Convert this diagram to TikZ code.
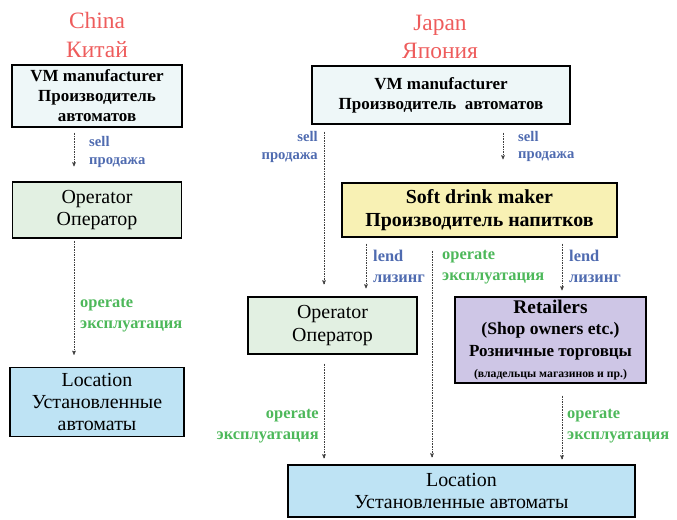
\documentclass[tikz,border=0pt]{standalone}
\usepackage{fontspec}
\setmainfont{Liberation Serif}
\usepackage{tikz}
\usetikzlibrary{arrows}
\definecolor{vmfill}{HTML}{EEF7F8}
\definecolor{opfill}{HTML}{E2F0E2}
\definecolor{locfill}{HTML}{BEE3F4}
\definecolor{sdfill}{HTML}{F8F1B4}
\definecolor{retfill}{HTML}{CEC6E6}
\definecolor{lblue}{HTML}{4F6BB0}
\definecolor{lgreen}{HTML}{4DB85A}
\definecolor{tred}{HTML}{EE5C5C}

\begin{document}
\begin{tikzpicture}[x=0.03cm,y=-0.03cm,->,>=stealth',thin]
  \tikzstyle{box}=[draw=black,line width=1.1pt,align=center,inner sep=2pt]
  \tikzstyle{title}=[font=\fontsize{20}{24}\selectfont,text=tred,align=center]
  \tikzstyle{flow}=[densely dotted,draw=black!75]
  \tikzstyle{selltxt}=[font=\fontsize{12.5}{15}\selectfont\bfseries,text=lblue,inner sep=0pt]
  \tikzstyle{lendtxt}=[font=\fontsize{14}{18}\selectfont\bfseries,text=lblue,inner sep=0pt]
  \tikzstyle{optxt}=[font=\fontsize{14}{18}\selectfont\bfseries,text=lgreen,inner sep=0pt]
  \tikzstyle{bold}=[font=\fontsize{14.5}{17}\selectfont\bfseries]
  \tikzstyle{plain}=[font=\fontsize{17}{19}\selectfont]

  \useasboundingbox (0,0) rectangle (677,519);

  % China
  \node[title] (cn) at (97,35) {China\\Китай};
  \node[box,bold,fill=vmfill,minimum width=5.1cm,minimum height=1.86cm] (cvm) at (97,96)
    {VM manufacturer\\Производитель\\автоматов};
  \node[box,plain,fill=opfill,minimum width=5.07cm,minimum height=1.68cm] (cop) at (97,210)
    {Operator\\Оператор};
  \node[box,plain,fill=locfill,minimum width=5.22cm,minimum height=2.07cm] (cloc) at (97,402)
    {Location\\Установленные\\автоматы};

  % Japan
  \node[title] (jp) at (440,37) {Japan\\Япония};
  \node[box,bold,fill=vmfill,minimum width=7.74cm,minimum height=1.74cm] (jvm) at (441,95)
    {VM manufacturer\\Производитель\ \ автоматов};
  \node[box,font=\fontsize{17}{20}\selectfont\bfseries,fill=sdfill,minimum width=8.25cm,minimum height=1.62cm] (jsd) at (479.5,210)
    {Soft drink maker\\Производитель напитков};
  \node[box,plain,fill=opfill,minimum width=5.07cm,minimum height=1.71cm] (jop) at (332.5,325.5)
    {Operator\\Оператор};
  \node[box,font=\fontsize{15}{18}\selectfont\bfseries,fill=retfill,minimum width=5.73cm,minimum height=2.58cm] (jret) at (550.5,340)
    {{\fontsize{16.5}{19}\selectfont Retailers}\\(Shop owners etc.)\\{\fontsize{14.5}{18}\selectfont Розничные торговцы}\\{\fontsize{10}{12}\selectfont (владельцы магазинов и пр.)}};
  \node[box,plain,fill=locfill,minimum width=10.41cm,minimum height=1.56cm] (jloc) at (461.5,491)
    {Location\\Установленные автоматы};

  % arrow columns
  \coordinate (cA) at (74,0);
  \coordinate (jA) at (324,0);
  \coordinate (jB) at (366,0);
  \coordinate (jC) at (432,0);
  \coordinate (jD) at (503,0);
  \coordinate (jE) at (562,0);

  \path (cvm.south -| cA) edge[flow,shorten <=0.15cm,shorten >=0.45cm]
          node[selltxt,right,align=left,pos=0.45,xshift=0.45cm] {sell\\продажа} (cop.north -| cA)
        (cop.south -| cA) edge[flow,shorten <=0.06cm,shorten >=0.36cm]
          node[optxt,right,align=left,pos=0.6,xshift=0.18cm] {operate\\эксплуатация} (cloc.north -| cA);

  \path (jvm.south -| jA) edge[flow,shorten <=0.21cm,shorten >=0.36cm]
          node[selltxt,left,align=right,pos=0.13,xshift=-0.18cm] {sell\\продажа} (jop.north -| jA)
        (jvm.south -| jD) edge[flow,shorten <=0.24cm,shorten >=0.69cm]
          node[selltxt,right,align=left,pos=0.38,xshift=0.45cm] {sell\\продажа} (jsd.north -| jD)
        (jsd.south -| jB) edge[flow,shorten <=0.18cm,shorten >=0.24cm]
          node[lendtxt,right,align=left,pos=0.49,xshift=0.21cm] {lend\\лизинг} (jop.north -| jB)
        (jsd.south -| jC) edge[flow,shorten <=0.39cm,shorten >=0.21cm]
          node[optxt,right,align=left,pos=0.13,xshift=0.3cm] {operate\\эксплуатация} (jloc.north -| jC)
        (jsd.south -| jE) edge[flow,shorten <=0.18cm,shorten >=0.18cm]
          node[lendtxt,right,align=left,pos=0.49,xshift=0.21cm] {lend\\лизинг} (jret.north -| jE)
        (jop.south -| jA) edge[flow,shorten <=0.27cm,shorten >=0.18cm]
          node[optxt,left,align=right,pos=0.65,xshift=-0.15cm] {operate\\эксплуатация} (jloc.north -| jA)
        (jret.south -| jE) edge[flow,shorten <=0.36cm,shorten >=0.15cm]
          node[optxt,right,align=left,pos=0.53,xshift=0.15cm] {operate\\эксплуатация} (jloc.north -| jE);
\end{tikzpicture}
\end{document}
